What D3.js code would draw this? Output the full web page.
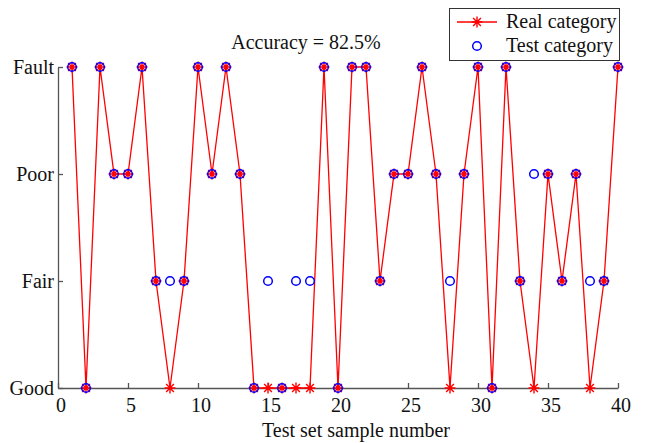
<!DOCTYPE html>
<html>
<head>
<meta charset="utf-8">
<script src="https://cdn.jsdelivr.net/npm/d3@7"></script>
<style>
  body { margin: 0; background: #fff; }
  text { font-family: "Liberation Serif", "Times New Roman", serif; fill: #111; }
</style>
</head>
<body>
<div id="chart"></div>
<script>
var categories = [ "Good", "Fair", "Poor", "Fault" ];
var sampleNumbers = d3.range( 1, 41 );
// 1 = Good, 2 = Fair, 3 = Poor, 4 = Fault
var realCategory = [ 4, 1, 4, 3, 3, 4, 2, 1, 2, 4,
                     3, 4, 3, 1, 1, 1, 1, 1, 4, 1,
                     4, 4, 2, 3, 3, 4, 3, 1, 3, 4,
                     1, 4, 2, 1, 3, 2, 3, 1, 2, 4 ];
var testCategory = [ 4, 1, 4, 3, 3, 4, 2, 2, 2, 4,
                     3, 4, 3, 1, 2, 1, 2, 2, 4, 1,
                     4, 4, 2, 3, 3, 4, 3, 2, 3, 4,
                     1, 4, 2, 3, 3, 2, 3, 2, 2, 4 ];
var xTicks = [ 0, 5, 10, 15, 20, 25, 30, 35, 40 ];
var titleText = "Accuracy = 82.5%";
var legendLabels = [ "Real category", "Test category" ];

var width = 646;
var height = 443;
var margin = { left: 58, right: 28, top: 67, bottom: 55 };

var svg = d3.select( "#chart" ).append( "svg" )
    .attr( "width", width )
    .attr( "height", height );

var x = d3.scaleLinear().domain( [ 0, 40 ] ).range( [ margin.left, width - margin.right ] );
var y = d3.scaleLinear().domain( [ 1, 4 ] ).range( [ height - margin.bottom, margin.top ] );

// axes, ticks pointing inward
var xAxis = svg.append( "g" )
    .attr( "transform", "translate(0," + y( 1 ) + ")" )
    .call( d3.axisBottom( x ).tickValues( xTicks ).tickSizeInner( -5 ).tickSizeOuter( 0 ).tickPadding( 10 ) );
var yAxis = svg.append( "g" )
    .attr( "transform", "translate(" + x( 0 ) + ",0)" )
    .call( d3.axisLeft( y ).tickValues( [ 1, 2, 3, 4 ] )
        .tickFormat( function( d ) { return categories[ d - 1 ]; } )
        .tickSizeInner( -5 ).tickSizeOuter( 0 ).tickPadding( 4 ) );

[ xAxis, yAxis ].forEach( function( a ) {
    a.selectAll( "path, line" ).attr( "stroke", "#555" ).attr( "stroke-width", 1.3 );
    a.selectAll( "text" ).style( "font-size", "20px" )
        .style( "font-family", "'Liberation Serif', serif" ).attr( "fill", "#111" );
});
xAxis.selectAll( "text" ).attr( "dx", 2.5 );

// real category line
var line = d3.line()
    .x( function( d, i ) { return x( sampleNumbers[ i ] ); } )
    .y( function( d ) { return y( d ); } );

svg.append( "path" )
    .datum( realCategory )
    .attr( "fill", "none" )
    .attr( "stroke", "red" )
    .attr( "stroke-width", 1.3 )
    .attr( "d", line );

function starPath( cx, cy, r ) {
    var d = "";
    for ( var k = 0; k < 4; k++ ) {
        var a = k * Math.PI / 4;
        var dx = r * Math.cos( a ), dy = r * Math.sin( a );
        d += "M" + ( cx - dx ) + "," + ( cy - dy ) + "L" + ( cx + dx ) + "," + ( cy + dy );
    }
    return d;
}

svg.append( "g" ).selectAll( "path" )
    .data( realCategory )
    .enter().append( "path" )
    .attr( "d", function( d, i ) { return starPath( x( sampleNumbers[ i ] ), y( d ), 5.5 ); } )
    .attr( "stroke", "red" )
    .attr( "stroke-width", 1.4 )
    .attr( "fill", "none" );

svg.append( "g" ).selectAll( "circle" )
    .data( testCategory )
    .enter().append( "circle" )
    .attr( "cx", function( d, i ) { return x( sampleNumbers[ i ] ); } )
    .attr( "cy", function( d ) { return y( d ); } )
    .attr( "r", 4.3 )
    .attr( "fill", "none" )
    .attr( "stroke", "blue" )
    .attr( "stroke-width", 1.5 );

// title
svg.append( "text" )
    .attr( "x", 306 )
    .attr( "y", 49 )
    .attr( "text-anchor", "middle" )
    .style( "font-size", "20px" )
    .text( titleText );

// legend
var legend = svg.append( "g" );
legend.append( "rect" )
    .attr( "x", 449.5 ).attr( "y", 8.5 )
    .attr( "width", 170 ).attr( "height", 52 )
    .attr( "fill", "#fff" ).attr( "stroke", "#333" ).attr( "stroke-width", 1 );
legend.append( "line" )
    .attr( "x1", 457 ).attr( "x2", 497 ).attr( "y1", 22 ).attr( "y2", 22 )
    .attr( "stroke", "red" ).attr( "stroke-width", 1.3 );
legend.append( "path" )
    .attr( "d", starPath( 477, 22, 5.5 ) )
    .attr( "stroke", "red" ).attr( "stroke-width", 1.4 );
legend.append( "circle" )
    .attr( "cx", 477 ).attr( "cy", 46 ).attr( "r", 4.3 )
    .attr( "fill", "none" ).attr( "stroke", "blue" ).attr( "stroke-width", 1.5 );
legend.selectAll( "text" )
    .data( legendLabels )
    .enter().append( "text" )
    .attr( "x", 506 )
    .attr( "y", function( d, i ) { return 28 + i * 24; } )
    .style( "font-size", "20px" )
    .text( function( d ) { return d; } );

// x axis label
svg.append( "text" )
    .attr( "x", 356 )
    .attr( "y", 437 )
    .attr( "text-anchor", "middle" )
    .style( "font-size", "20px" )
    .text( "Test set sample number" );
</script>
</body>
</html>
